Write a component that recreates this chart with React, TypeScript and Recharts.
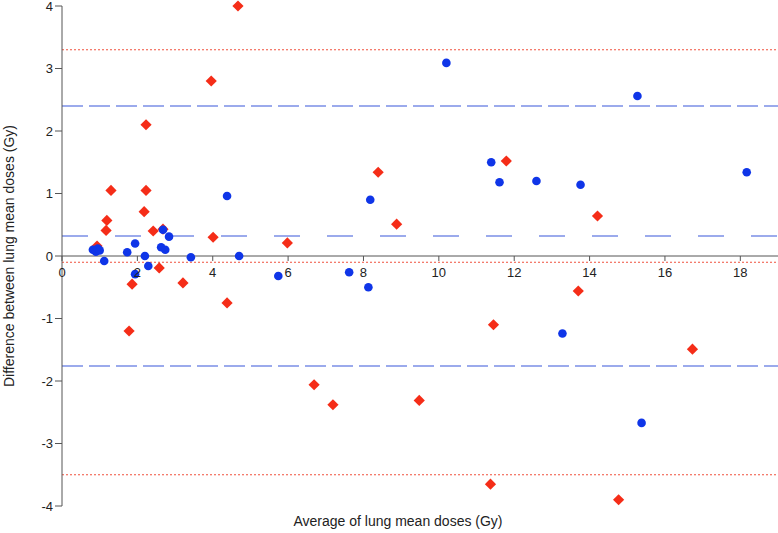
import React from "react";
import { ScatterChart, Scatter, XAxis, YAxis, ReferenceLine } from "recharts";

// Blue series (circles)
const blueAvg = [0.82, 0.9, 0.95, 1.0, 1.12, 1.73, 1.94, 1.94, 2.2, 2.29, 2.63, 2.68, 2.74, 2.84, 3.42, 4.38, 4.7, 5.74, 7.62, 8.13, 8.18, 10.2, 11.39, 11.61, 12.59, 13.28, 13.76, 15.27, 15.38, 18.17];
const blueDiff = [0.1, 0.07, 0.12, 0.09, -0.08, 0.06, 0.2, -0.29, 0.0, -0.16, 0.14, 0.42, 0.1, 0.31, -0.02, 0.96, 0.0, -0.32, -0.26, -0.5, 0.9, 3.09, 1.5, 1.18, 1.2, -1.24, 1.14, 2.56, -2.67, 1.34];

// Red series (diamonds)
const redAvg = [0.93, 1.17, 1.19, 1.3, 1.78, 1.86, 2.18, 2.23, 2.23, 2.42, 2.58, 2.68, 3.21, 3.96, 4.01, 4.38, 4.67, 5.98, 6.69, 7.19, 8.39, 8.88, 9.48, 11.37, 11.45, 11.79, 13.7, 14.21, 14.77, 16.73];
const redDiff = [0.16, 0.41, 0.57, 1.05, -1.2, -0.45, 0.71, 1.05, 2.1, 0.4, -0.19, 0.43, -0.43, 2.8, 0.3, -0.75, 4.0, 0.21, -2.06, -2.38, 1.34, 0.51, -2.31, -3.65, -1.1, 1.52, -0.56, 0.64, -3.9, -1.49];

// Reference lines
const blueLimits = [2.4, 0.32, -1.76];
const redLimits = [3.3, -0.1, -3.5];

const xTicks = [0, 2, 4, 6, 8, 10, 12, 14, 16, 18];
const yTicks = [-4, -3, -2, -1, 0, 1, 2, 3, 4];
const xDomain = [0, 19];
const yDomain = [-4, 4];

const blueData = blueAvg.map((x, i) => ({ x, y: blueDiff[i] }));
const redData = redAvg.map((x, i) => ({ x, y: redDiff[i] }));

const W = 778;
const H = 533;
const TOP = 6;
const PLOT_H = 500;
const FONT = "'Liberation Sans', Arial, sans-serif";
const AXIS = "#555";
const zeroY = TOP + (PLOT_H * (yDomain[1] - 0)) / (yDomain[1] - yDomain[0]);

const Circle = (p: any) => <circle cx={p.cx} cy={p.cy} r={4.3} fill="#0f35e8" />;
const Diamond = (p: any) => {
  const s = 5.6;
  return (
    <polygon
      points={`${p.cx},${p.cy - s} ${p.cx + s},${p.cy} ${p.cx},${p.cy + s} ${p.cx - s},${p.cy}`}
      fill="#f52d18"
    />
  );
};

const XTick = (p: any) => (
  <g>
    <line x1={p.x} x2={p.x} y1={zeroY} y2={zeroY + 5} stroke={AXIS} strokeWidth={1} />
    <text x={p.x} y={zeroY + 21} textAnchor="middle" fontSize={13} fontFamily={FONT} fill="#222">
      {p.payload.value}
    </text>
  </g>
);

export default function App() {
  return (
    <div style={{ position: "absolute", left: 0, top: 0, width: W, height: H, background: "#fff" }}>
      <ScatterChart width={W} height={H} margin={{ top: TOP, right: 0, bottom: 0, left: 0 }}>
        <XAxis
          type="number"
          dataKey="x"
          domain={xDomain}
          ticks={xTicks}
          axisLine={false}
          tickLine={false}
          tick={<XTick />}
          height={H - TOP - PLOT_H}
          interval={0}
          label={{
            content: () => (
              <text x={398} y={526} textAnchor="middle" fontSize={14} fontFamily={FONT} fill="#222">
                Average of lung mean doses (Gy)
              </text>
            ),
          }}
        />
        <YAxis
          type="number"
          dataKey="y"
          domain={yDomain}
          ticks={yTicks}
          width={62}
          stroke={AXIS}
          tickSize={7}
          interval={0}
          tick={{ fontSize: 13, fontFamily: FONT, fill: "#222" }}
          label={{
            content: () => (
              <text
                x={14}
                y={256}
                textAnchor="middle"
                fontSize={14}
                fontFamily={FONT}
                fill="#222"
                transform={`rotate(-90 14 256)`}
              >
                Difference between lung mean doses (Gy)
              </text>
            ),
          }}
        />
        <ReferenceLine y={0} stroke={AXIS} strokeWidth={1} />
        <ReferenceLine y={redLimits[0]} stroke="#f0503c" strokeDasharray="2 2" />
        <ReferenceLine y={redLimits[1]} stroke="#f0503c" strokeDasharray="2 2" />
        <ReferenceLine y={redLimits[2]} stroke="#f0503c" strokeDasharray="2 2" />
        <ReferenceLine y={blueLimits[0]} stroke="#7b8fe6" strokeWidth={1.5} strokeDasharray="21 6" />
        <ReferenceLine y={blueLimits[1]} stroke="#7b8fe6" strokeWidth={1.5} strokeDasharray="26 27" />
        <ReferenceLine y={blueLimits[2]} stroke="#7b8fe6" strokeWidth={1.5} strokeDasharray="21 6" />
        <Scatter data={redData} shape={<Diamond />} isAnimationActive={false} />
        <Scatter data={blueData} shape={<Circle />} isAnimationActive={false} />
      </ScatterChart>
    </div>
  );
}
